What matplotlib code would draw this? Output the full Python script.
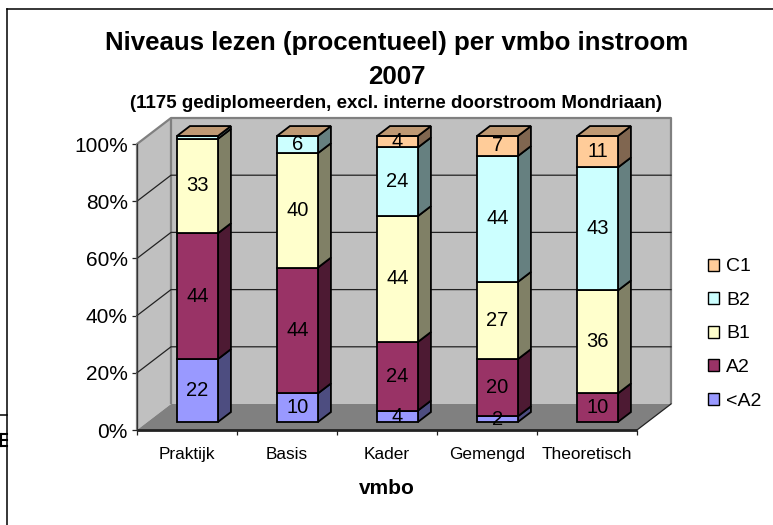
import matplotlib
matplotlib.use("Agg")
import matplotlib.pyplot as plt
from matplotlib.patches import Polygon, Patch
from matplotlib.lines import Line2D

plt.rcParams['font.family'] = ['Liberation Sans', 'DejaVu Sans']

categories = ["Praktijk", "Basis", "Kader", "Gemengd", "Theoretisch"]
lt_a2 = [22, 10, 4, 2, 0]
a2 = [44, 44, 24, 20, 10]
b1 = [33, 40, 44, 27, 36]
b2 = [1, 6, 24, 44, 43]
c1 = [0, 0, 4, 7, 11]
series_names = ["<A2", "A2", "B1", "B2", "C1"]
series_values = [lt_a2, a2, b1, b2, c1]
yticks = [0, 20, 40, 60, 80, 100]

front = ["#9999FF", "#993366", "#FFFFCC", "#CCFFFF", "#FFCC99"]
side = ["#4D4D80", "#4D1A33", "#808066", "#668080", "#806650"]
top_col = "#BF9973"

W, H = 773, 525
fig = plt.figure(figsize=(W / 100, H / 100), dpi=100, facecolor="white")
L, R, T, B = 137, 637, 144, 430
ax = fig.add_axes([L / W, 1 - B / H, (R - L) / W, (B - T) / H])
ax.set_xlim(0, 5)
ax.set_ylim(0, 100)
ax.patch.set_visible(False)
for s in ax.spines.values():
    s.set_visible(False)

DX = 34 / 100
DY = 26 / (B - T) * 100


def P(x, y, f=0.0):
    return (x + f * DX, y + f * DY)


def poly(pts, fc, ec="none", lw=0.0, z=1):
    ax.add_patch(Polygon(pts, closed=True, fc=fc, ec=ec, lw=lw, zorder=z,
                         clip_on=False, joinstyle="miter"))


poly([P(0, 0), P(0, 100), P(0, 100, 1), P(0, 0, 1)], "#C0C0C0")
poly([P(0, 0, 1), P(0, 100, 1), P(5, 100, 1), P(5, 0, 1)], "#C0C0C0")
poly([P(0, 0), P(0, 0, 1), P(5, 0, 1), P(5, 0)], "#808080")
wall = dict(color="#808080", lw=1.6, zorder=2, clip_on=False, solid_capstyle="butt")
ax.plot(*zip(P(0, 0), P(0, 100), P(0, 100, 1), P(5, 100, 1), P(5, 0, 1)), **wall)
ax.plot(*zip(P(0, 0, 1), P(0, 100, 1)), **wall)
for v in yticks[1:-1]:
    ax.plot(*zip(P(0, v), P(0, v, 1), P(5, v, 1)), color="#222222", lw=0.9, zorder=2, clip_on=False)
ax.plot(*zip(P(0, 0), P(0, 100)), color="#333333", lw=0.9, zorder=2, clip_on=False)
ax.plot(*zip(P(0, 0), P(5, 0)), color="#222222", lw=2.0, zorder=3, clip_on=False, solid_capstyle="butt")
ax.plot(*zip(P(5, 0), P(5, 0, 1)), color="#222222", lw=0.9, zorder=3, clip_on=False)

f0, f1 = 0.31, 0.69
width = 0.41
for i in range(len(categories)):
    x0 = i + 0.4
    x1 = x0 + width
    base = 0
    sx0, sx1 = x0 - f0 * DX, x1 - f0 * DX
    for k, vals in enumerate(series_values):
        v = vals[i]
        if v == 0:
            continue
        edge = dict(ec="black", lw=1.3, z=5)
        poly([P(sx1, base, f0), P(sx1, base, f1), P(sx1, base + v, f1), P(sx1, base + v, f0)], side[k], **edge)
        poly([P(sx0, base, f0), P(sx1, base, f0), P(sx1, base + v, f0), P(sx0, base + v, f0)], front[k], **edge)
        if v >= 2:
            cx, cy = P((sx0 + sx1) / 2, base + v / 2, f0)
            ax.text(cx, cy, str(v), ha="center", va="center", fontsize=14.5, color="black", zorder=7)
        base += v
    poly([P(sx0, base, f0), P(sx1, base, f0), P(sx1, base, f1), P(sx0, base, f1)], top_col, ec="black", lw=1.3, z=6)

ax.set_yticks(yticks)
ax.set_yticklabels([f"{v}%" for v in yticks], fontsize=15)
ax.set_xticks(range(6))
ax.set_xticklabels([""] * 6)
ax.tick_params(axis="both", length=3.5, width=0.9, color="#222222", pad=3)
for i, c in enumerate(categories):
    ax.annotate(c, xy=(i + 0.5, 0), xytext=(0, -29), textcoords="offset pixels",
                ha="center", va="baseline", fontsize=12.4, annotation_clip=False)
ax.annotate("vmbo", xy=(2.5, 0), xytext=(0, -58), textcoords="offset pixels",
            ha="center", va="center", fontsize=15, fontweight="bold", annotation_clip=False)

fig.text(397 / W, 1 - 43 / H, "Niveaus lezen (procentueel) per vmbo instroom", ha="center", va="center",
         fontsize=18.6, fontweight="bold")
fig.text(397 / W, 1 - 76.5 / H, "2007", ha="center", va="center", fontsize=18.6, fontweight="bold")
fig.text(396 / W, 1 - 104 / H, "(1175 gediplomeerden, excl. interne doorstroom Mondriaan)", ha="center",
         va="center", fontsize=13.5, fontweight="bold")

handles = [Patch(fc=front[k], ec="black", lw=1.0, label=series_names[k]) for k in range(4, -1, -1)]
fig.legend(handles=handles, loc="center left", bbox_to_anchor=(708 / W, 1 - 334 / H), frameon=False,
           fontsize=14, handlelength=0.57, handleheight=0.57, handletextpad=0.36, labelspacing=0.85,
           borderpad=0, borderaxespad=0)

frame = dict(color="black", lw=1.1, transform=fig.transFigure)
fig.add_artist(Line2D([7.5 / W, 7.5 / W], [0, 1 - 9 / H], **frame))
fig.add_artist(Line2D([7.5 / W, 1], [1 - 9 / H, 1 - 9 / H], **frame))
fig.add_artist(Line2D([0, 7.5 / W], [1 - 414.5 / H, 1 - 414.5 / H], **frame))
for yy in (434, 440, 446):
    fig.add_artist(Line2D([0, 7.5 / W], [1 - yy / H, 1 - yy / H], **dict(frame, lw=1.5)))
fig.add_artist(Line2D([1 / W, 1 / W], [1 - 434 / H, 1 - 446 / H], **dict(frame, lw=1.5)))

fig.savefig("out.png", dpi=100)
